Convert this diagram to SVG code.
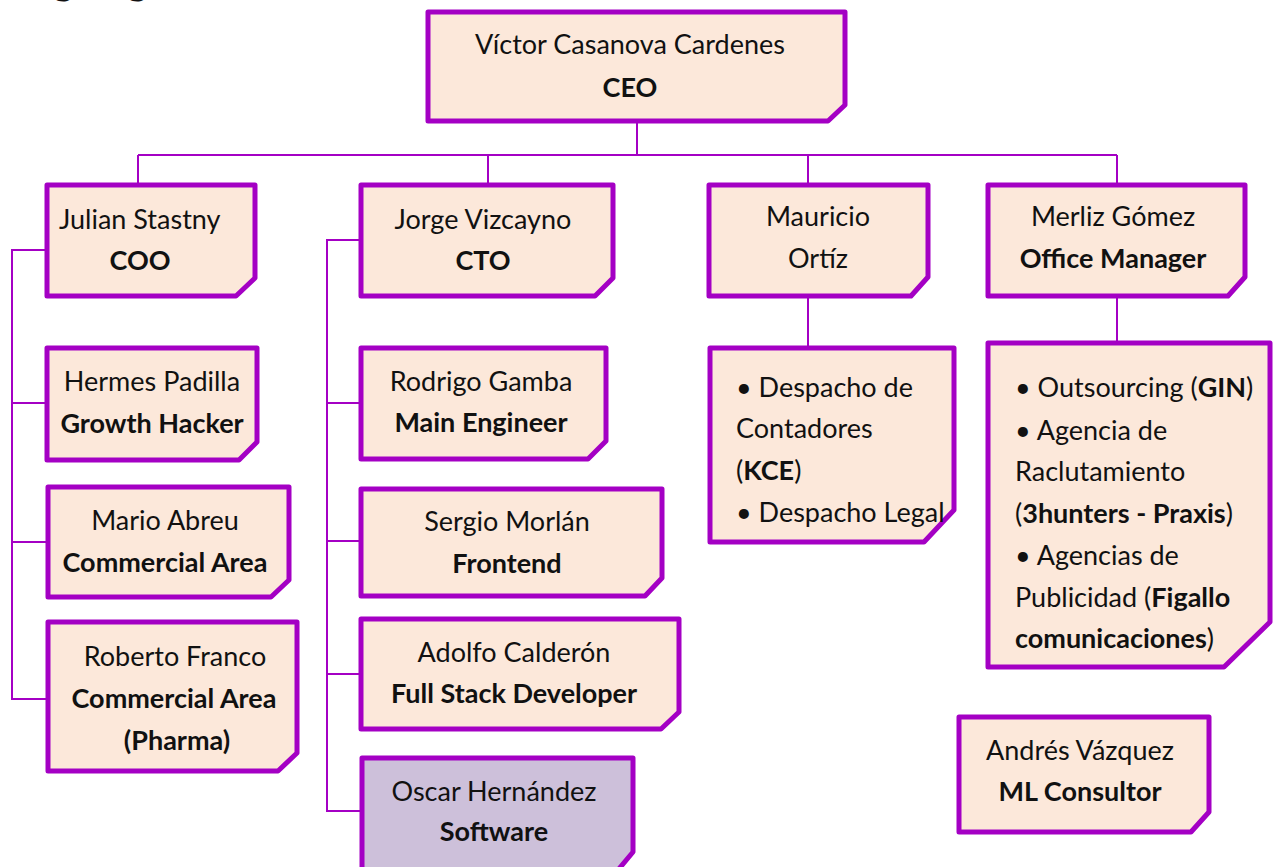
<svg xmlns="http://www.w3.org/2000/svg" width="1273" height="867" viewBox="0 0 1273 867">
<style>
.box{fill:#FCE8DA;stroke:#A400C4;stroke-width:5;stroke-linejoin:round}
.alt{fill:#CDC0DA}
.ln{fill:none;stroke:#A400C4;stroke-width:2}
text{font-family:Lato,"Open Sans","Liberation Sans",sans-serif;font-size:27px;fill:#111}
.c{text-anchor:middle}
.b{font-weight:bold}
</style>
<rect width="1273" height="867" fill="#fff"/>
<text x="6" y="-6" style="font-size:40px;font-weight:bold">Organigrama</text>
<g id="connectors">
<path class="ln" d="M637 122V155M138 155H1117M138 155V184M488 155V184M808 155V184M1117 155V184"/>
<path class="ln" d="M45 250H12V699H47M12 403H47M12 542H47"/>
<path class="ln" d="M361 240H327V811H362M327 403H361M327 541H361M327 674H361"/>
<path class="ln" d="M808 296V347M1117 296V342"/>
</g>
<g id="ceo"><path class="box" d="M428 12H845V105L828 121H428Z"/>
<text class="c" x="630" y="54">Víctor Casanova Cardenes</text><text class="c b" x="630" y="97">CEO</text></g>
<g id="coo"><path class="box" d="M47 185H255V278L236 296H47Z"/>
<text x="59" y="229">Julian Stastny</text><text class="c b" x="140" y="270">COO</text></g>
<g id="cto"><path class="box" d="M361 185H613V278L595 296H361Z"/>
<text class="c" x="483" y="229">Jorge Vizcayno</text><text class="c b" x="483" y="270">CTO</text></g>
<g id="mauricio"><path class="box" d="M709 185H928V277L911 296H709Z"/>
<text class="c" x="818" y="226">Mauricio</text><text class="c" x="818" y="268">Ortíz</text></g>
<g id="merliz"><path class="box" d="M988 185H1245V277L1228 296H988Z"/>
<text class="c" x="1113" y="226">Merliz Gómez</text><text class="c b" x="1113" y="268">Office Manager</text></g>
<g id="hermes"><path class="box" d="M47 348H257V442L239 460H47Z"/>
<text class="c" x="152" y="391">Hermes Padilla</text><text class="c b" x="152" y="433">Growth Hacker</text></g>
<g id="mario"><path class="box" d="M48 487H289V580L271 597H48Z"/>
<text class="c" x="165" y="530">Mario Abreu</text><text class="c b" x="165" y="572">Commercial Area</text></g>
<g id="roberto"><path class="box" d="M48 622H297V753L278 771H48Z"/>
<text class="c" x="175" y="666">Roberto Franco</text><text class="c b" x="174" y="708">Commercial Area</text><text class="c b" x="177" y="750">(Pharma)</text></g>
<g id="rodrigo"><path class="box" d="M361 348H606V441L588 459H361Z"/>
<text class="c" x="481" y="391">Rodrigo Gamba</text><text class="c b" x="481" y="432">Main Engineer</text></g>
<g id="sergio"><path class="box" d="M361 489H662V578L645 596H361Z"/>
<text class="c" x="507" y="531">Sergio Morlán</text><text class="c b" x="507" y="573">Frontend</text></g>
<g id="adolfo"><path class="box" d="M361 619H679V712L661 729H361Z"/>
<text class="c" x="514" y="662">Adolfo Calderón</text><text class="c b" x="514" y="703">Full Stack Developer</text></g>
<g id="oscar"><path class="box alt" d="M362 758H633V852L618 870H362Z"/>
<text class="c" x="494" y="801">Oscar Hernández</text><text class="c b" x="494" y="841">Software</text></g>
<g id="despacho"><path class="box" d="M710 348H954V510L924 542H710Z"/>
<text x="736" y="397">• Despacho de</text><text x="736" y="438">Contadores</text><text x="736" y="480">(<tspan class="b">KCE</tspan>)</text><text x="736" y="522">• Despacho Legal</text></g>
<g id="servicios"><path class="box" d="M988 343H1270V622L1224 667H988Z"/>
<text x="1015" y="397">• Outsourcing (<tspan class="b">GIN</tspan>)</text><text x="1015" y="440">• Agencia de</text><text x="1015" y="481">Raclutamiento</text><text x="1015" y="523">(<tspan class="b">3hunters - Praxis</tspan>)</text><text x="1015" y="565">• Agencias de</text><text x="1015" y="607">Publicidad (<tspan class="b">Figallo</tspan></text><text x="1015" y="648"><tspan class="b">comunicaciones</tspan>)</text></g>
<g id="andres"><path class="box" d="M959 717H1209V812L1191 832H959Z"/>
<text class="c" x="1080" y="760">Andrés Vázquez</text><text class="c b" x="1080" y="801">ML Consultor</text></g>
</svg>
